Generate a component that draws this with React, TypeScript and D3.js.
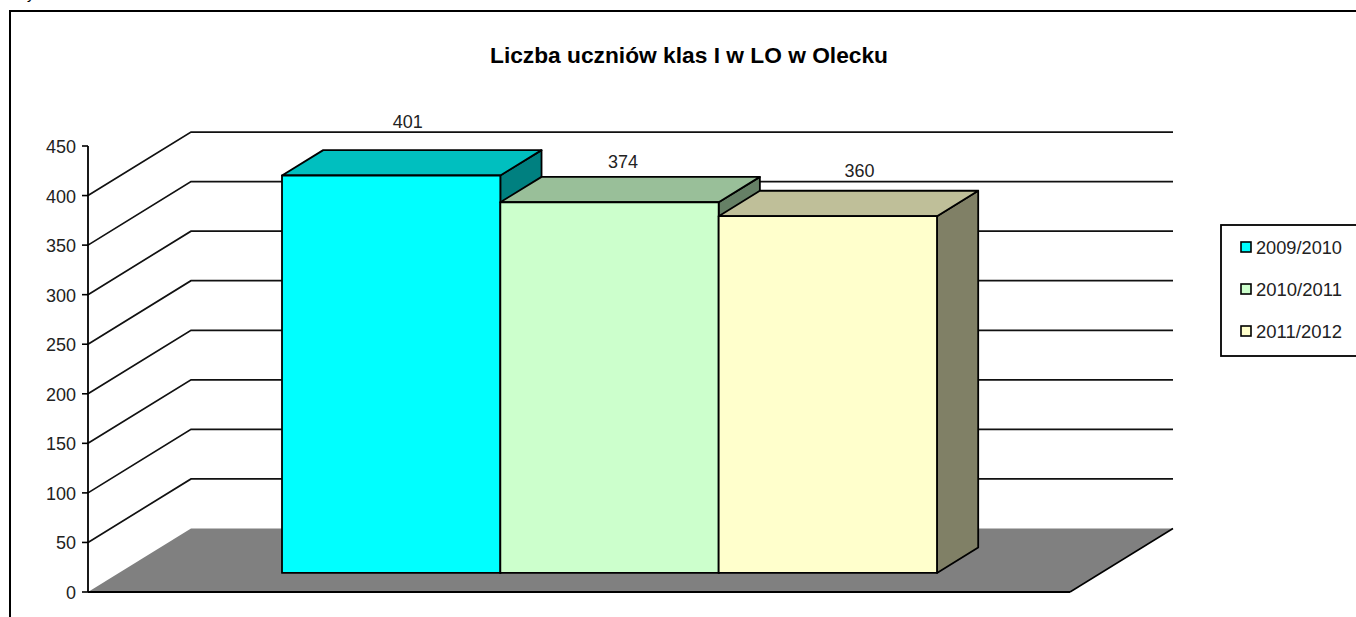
import React from "react";
import * as d3 from "d3";

const title = "Liczba uczniów klas I w LO w Olecku";
const years = ["2009/2010", "2010/2011", "2011/2012"];
const values = [401, 374, 360];
const frontColors = ["#00ffff", "#ccffcc", "#ffffcc"];
const topColors = ["#00bfbf", "#99bf99", "#bfbf99"];
const sideColors = ["#008080", "#668066", "#808066"];
const axisTicks = [0, 50, 100, 150, 200, 250, 300, 350, 400, 450];
const gridTicks = [50, 100, 150, 200, 250, 300, 350, 400];
// data-label placement relative to each bar's back-top centre, as in the reference
const labelShiftX = [-4, -7, 11];
const labelShiftY = [-22, -9, -14];

const W = 1356, H = 617;
const DIGIT = 10;
const y = d3.scaleLinear().domain([0, 450]).range([592, 146]);
const xFloor = d3.scaleLinear().domain([0, 1]).range([88, 1070]);
const zx = d3.scaleLinear().domain([0, 1]).range([0, 103]);
const zy = d3.scaleLinear().domain([0, 1]).range([0, -63.5]);
const xBar = d3.scaleBand<string>().domain(years).range([282, 937]).padding(0);
const barZ0 = 0.30;
const barZ1 = 0.70;

const pt = (x: number, v: number, z: number): [number, number] => [x + zx(z), y(v) + zy(z)];
const poly = (pts: [number, number][]) => d3.line()(pts)! + "Z";
const numStyle = { fontSize: 19, fill: "#222" } as const;

export default function App() {
  const yTop = y(450);
  return (
    <svg width={W} height={H} style={{ position: "absolute", left: 0, top: 0, background: "#fff", fontFamily: "'Liberation Sans', Arial, sans-serif" }}>
      <text x={27} y={-1} fontSize={15} fill="#000">y</text>
      <path d={`M10 617V11H${W}`} fill="none" stroke="#000" strokeWidth={2} />
      <text x={490} y={63} fontSize={22} fontWeight={700} textLength={398} lengthAdjust="spacingAndGlyphs" fill="#000">{title}</text>

      {/* floor */}
      <path d={poly([pt(xFloor(0), 0, 0), pt(xFloor(1), 0, 0), pt(xFloor(1), 0, 1), pt(xFloor(0), 0, 1)])} fill="#808080" />
      <path d={d3.line()([pt(xFloor(1), 0, 0), pt(xFloor(1), 0, 1)])!} stroke="#000" strokeWidth={1.5} fill="none" />

      {/* gridlines */}
      {gridTicks.map(t => (
        <path key={t} d={d3.line()([pt(xFloor(0), t, 0), pt(xFloor(0), t, 1), pt(xFloor(1), t, 1)])!} fill="none" stroke="#111" strokeWidth={1.7} />
      ))}
      <path d={d3.line()([pt(xFloor(0), 0, 0), pt(xFloor(1), 0, 0)])!} fill="none" stroke="#000" strokeWidth={2} />

      {/* axis */}
      <line x1={88} x2={88} y1={yTop} y2={y(0)} stroke="#000" strokeWidth={1.8} />
      {axisTicks.map(t => (
        <g key={t}>
          <line x1={82} x2={88} y1={y(t)} y2={y(t)} stroke="#000" strokeWidth={1.6} />
          <text x={76} y={y(t) + 7} textAnchor="end" {...numStyle} textLength={String(t).length * DIGIT} lengthAdjust="spacingAndGlyphs">{t}</text>
        </g>
      ))}

      {/* bars */}
      {years.map((yr, i) => {
        const x0 = xBar(yr)!;
        const x1 = x0 + xBar.bandwidth();
        const v = values[i];
        const base = d3.scaleLinear().domain([0, 1]).range([y(0) + zy(barZ0), y(0) + zy(barZ0) - (y(0) - y(v))]);
        const d = barZ1 - barZ0;
        const dx = zx(d), dy = zy(d);
        const A: [number, number] = [x0, base(1)];
        const B: [number, number] = [x1, base(1)];
        const C: [number, number] = [x1, base(0)];
        const D: [number, number] = [x0, base(0)];
        const shift = (p: [number, number]): [number, number] => [p[0] + dx, p[1] + dy];
        return (
          <g key={yr} stroke="#000" strokeWidth={1.8} strokeLinejoin="round">
            <path d={poly([B, C, shift(C), shift(B)])} fill={sideColors[i]} />
            <path d={poly([A, B, shift(B), shift(A)])} fill={topColors[i]} />
            <path d={poly([A, B, C, D])} fill={frontColors[i]} />
          </g>
        );
      })}
      {years.map((yr, i) => {
        const cx = xBar(yr)! + xBar.bandwidth() / 2 + zx((barZ1 - barZ0) / 2) + labelShiftX[i];
        const top = y(0) + zy(barZ0) - (y(0) - y(values[i])) + zy(barZ1 - barZ0);
        return <text key={yr} x={cx} y={top + labelShiftY[i]} textAnchor="middle" {...numStyle} textLength={30} lengthAdjust="spacingAndGlyphs">{values[i]}</text>;
      })}

      {/* legend */}
      <rect x={1221} y={225} width={140} height={131} fill="#fff" stroke="#000" strokeWidth={1.8} />
      {years.map((yr, i) => {
        const cy = d3.scaleLinear().domain([0, 2]).range([247, 331])(i);
        return (
          <g key={yr}>
            <rect x={1241} y={cy - 5} width={10} height={10} fill={frontColors[i]} stroke="#000" strokeWidth={1.6} />
            <text x={1256} y={cy + 7} {...numStyle} textLength={86} lengthAdjust="spacingAndGlyphs">{yr}</text>
          </g>
        );
      })}
    </svg>
  );
}
